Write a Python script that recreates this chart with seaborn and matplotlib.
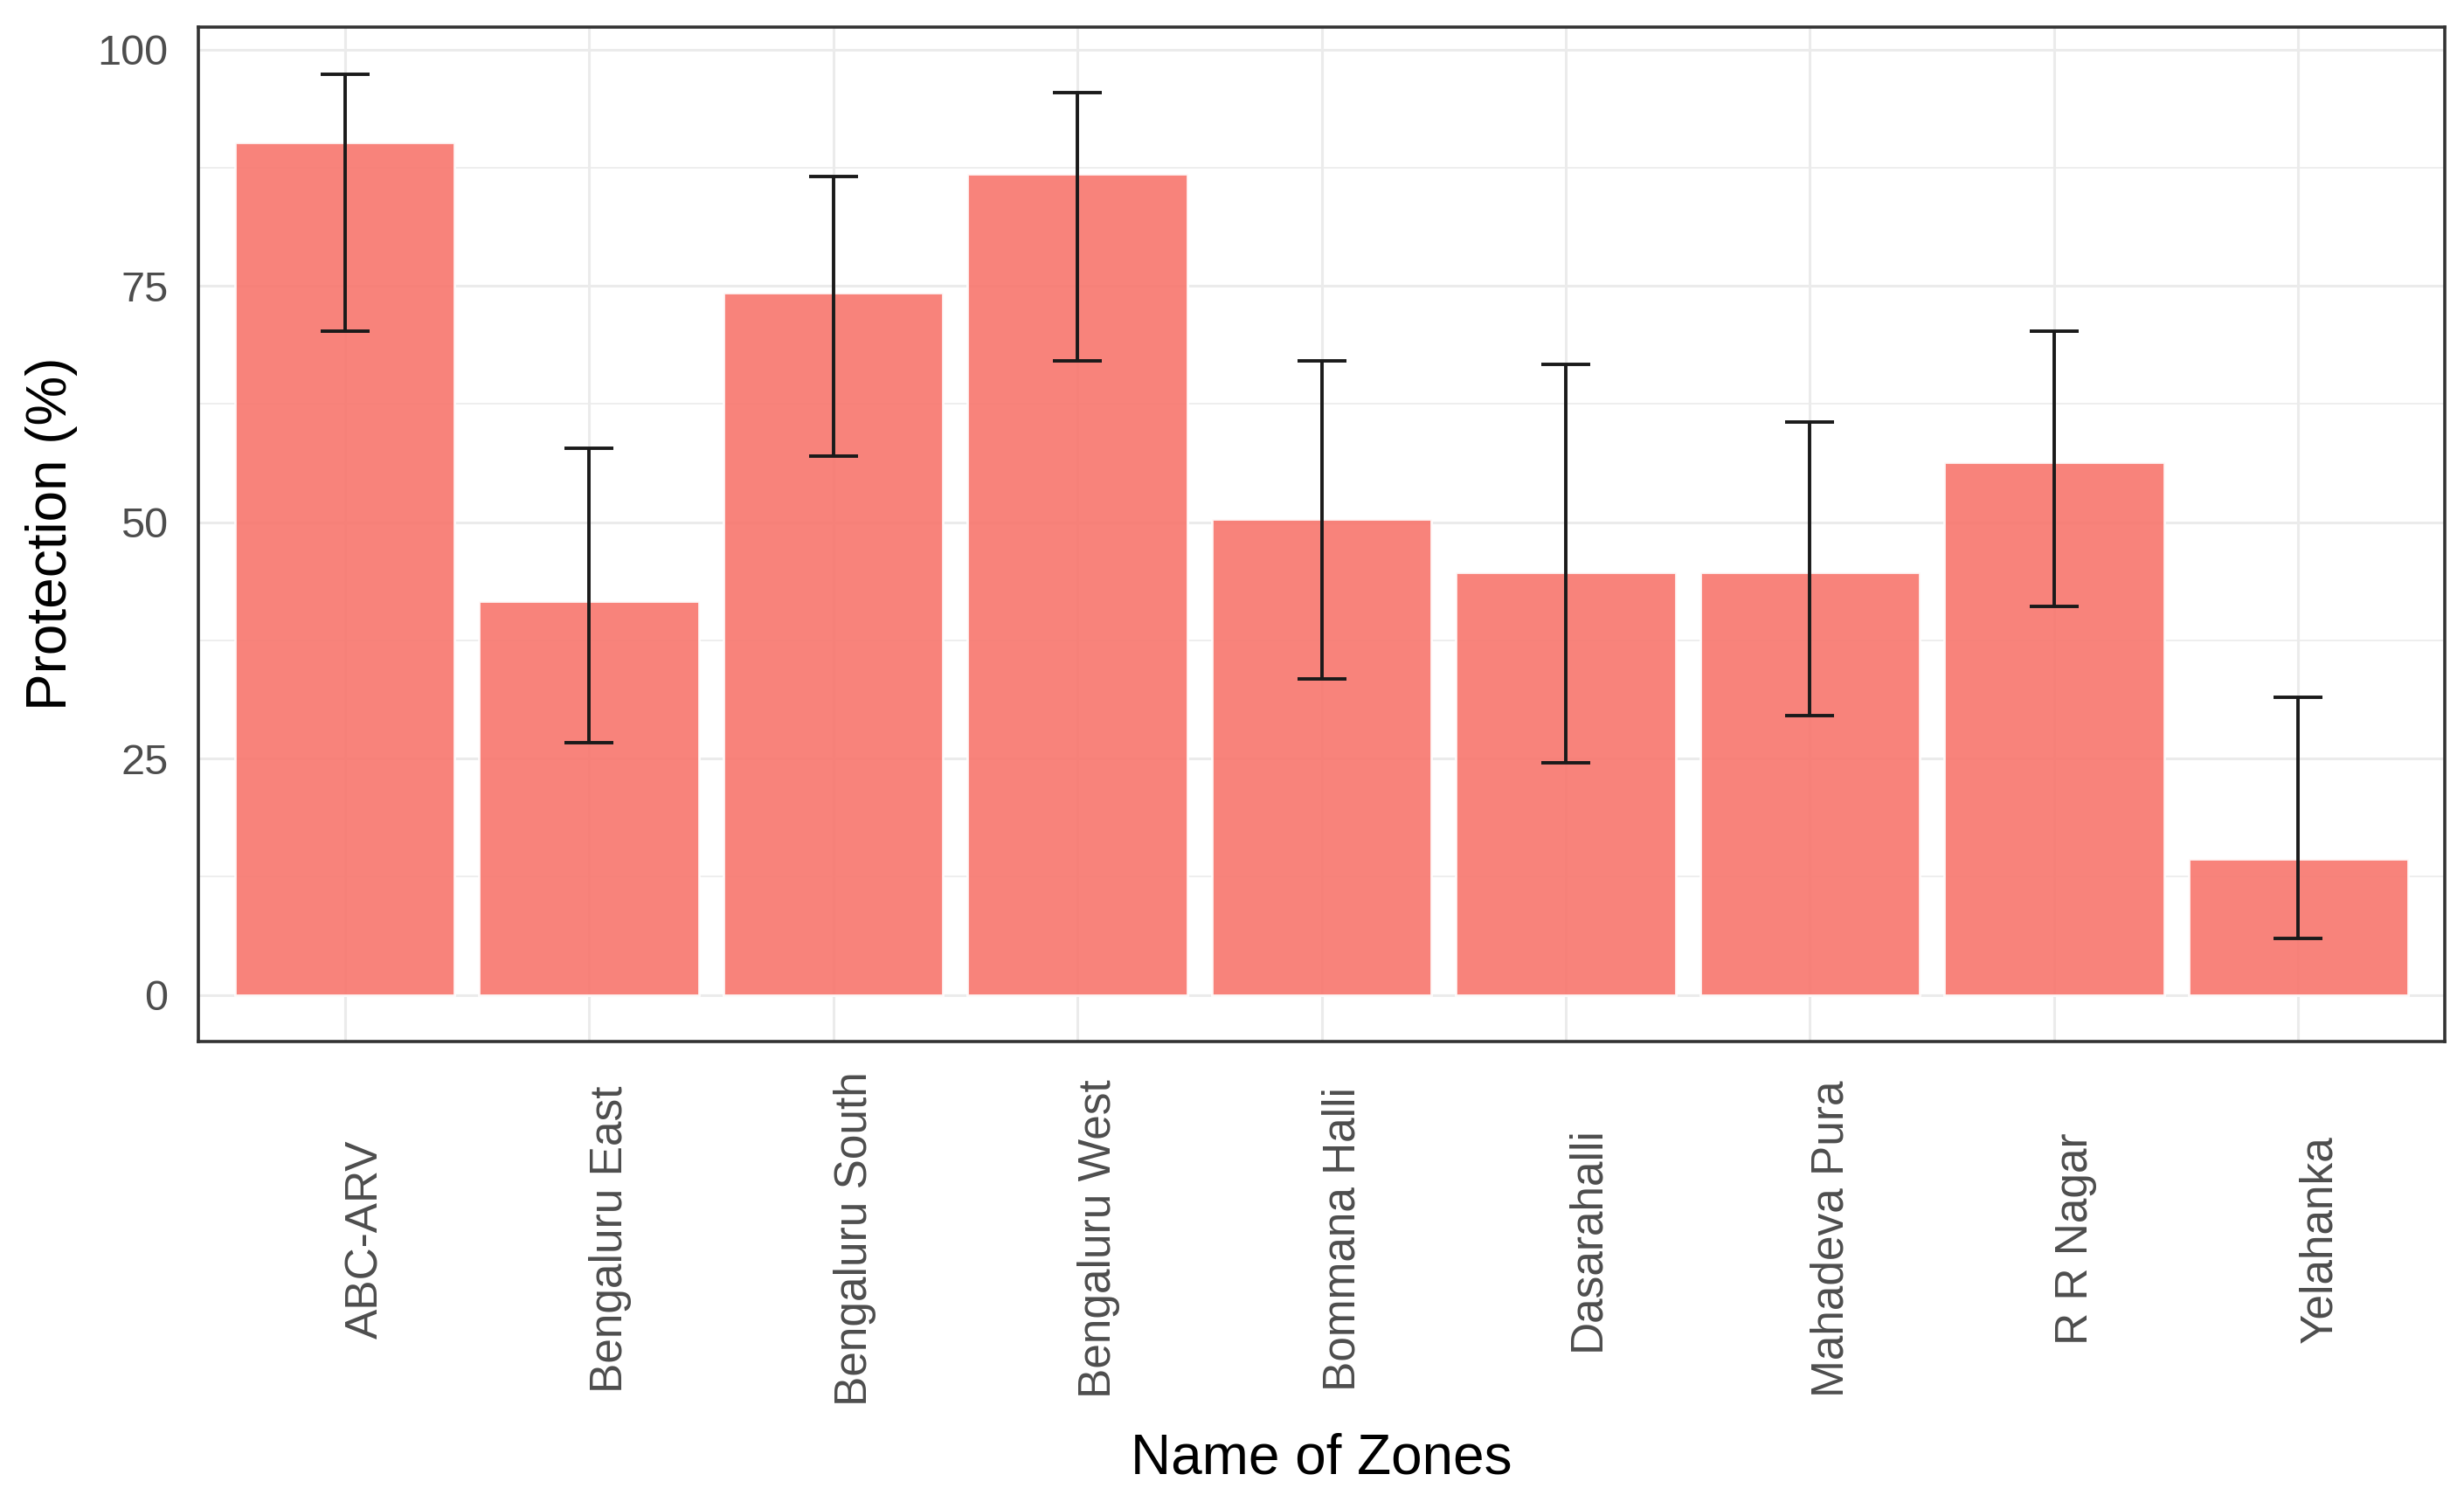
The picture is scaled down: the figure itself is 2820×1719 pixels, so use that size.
import numpy as np
import pandas as pd
import matplotlib
matplotlib.use('Agg')
import matplotlib.pyplot as plt
from matplotlib.ticker import MultipleLocator
import seaborn as sns

# data
zones = ["ABC-ARV", "Bengaluru East", "Bengaluru South", "Bengaluru West",
         "Bommana Halli", "Dasarahalli", "Mahadeva Pura", "R R Nagar", "Yelahanka"]
protection = [90.2, 41.6, 74.3, 86.8, 50.3, 44.7, 44.7, 56.3, 14.4]
ci_low = [70.2, 26.7, 57.0, 67.1, 33.4, 24.5, 29.5, 41.1, 6.0]
ci_high = [97.4, 57.8, 86.6, 95.4, 67.1, 66.7, 60.6, 70.2, 31.5]

df = pd.DataFrame({"Zone": zones, "Protection": protection,
                   "Low": ci_low, "High": ci_high})

sns.set_theme(style="white")
plt.rcParams['font.family'] = ['Liberation Sans', 'DejaVu Sans']

fig = plt.figure(figsize=(14.1, 8.595), dpi=200)
ax = fig.add_axes([0.0805, 0.3068, 0.9117, 0.6754])

sns.barplot(data=df, x="Zone", y="Protection", color="#F8766D", alpha=0.9,
            width=0.9, saturation=1, errorbar=None, ax=ax, zorder=2)

pos = np.arange(len(zones))
yerr = [df["Protection"] - df["Low"], df["High"] - df["Protection"]]
ax.errorbar(pos, df["Protection"], yerr=yerr, fmt='none', ecolor='#1A1A1A',
            elinewidth=1.4, capsize=10, capthick=1.4, zorder=3)

ax.set_xlim(-0.6, len(zones) - 0.4)
ax.set_ylim(-4.9, 102.4)

# grid like ggplot theme_bw (seaborn switches off the x grid, so set it after)
ax.set_axisbelow(True)
ax.yaxis.set_major_locator(MultipleLocator(25))
ax.yaxis.set_minor_locator(MultipleLocator(12.5))
ax.xaxis.grid(True, which='major', color='#EBEBEB', linewidth=1.1)
ax.yaxis.grid(True, which='major', color='#EBEBEB', linewidth=1.1)
ax.yaxis.grid(True, which='minor', color='#EBEBEB', linewidth=0.6)

for s in ax.spines.values():
    s.set_color('#333333')
    s.set_linewidth(1.3)

ax.tick_params(axis='both', which='major', length=4.5, width=1.2, color='#333333',
               labelcolor='#4D4D4D')
ax.tick_params(axis='y', which='minor', length=0)
ax.tick_params(axis='y', labelsize=17.5, pad=8)
ax.tick_params(axis='x', labelsize=18.5, pad=77)
ax.set_yticks([0, 25, 50, 75, 100])
ax.set_yticklabels(["0", "25", "50", "75", "100"])
for lab in ax.get_xticklabels():
    lab.set_rotation(90)
    lab.set_va('center')
    lab.set_ha('left')

ax.set_xlabel("Name of Zones", fontsize=23, color='black')
ax.set_ylabel("Protection (%)", fontsize=23, color='black')
ax.xaxis.set_label_coords(0.5, -0.412)
ax.xaxis.label.set_va('center')
ax.yaxis.set_label_coords(-0.0652, 0.5)
ax.yaxis.label.set_va('center')

fig.savefig("out.png", dpi=200, facecolor='white')
